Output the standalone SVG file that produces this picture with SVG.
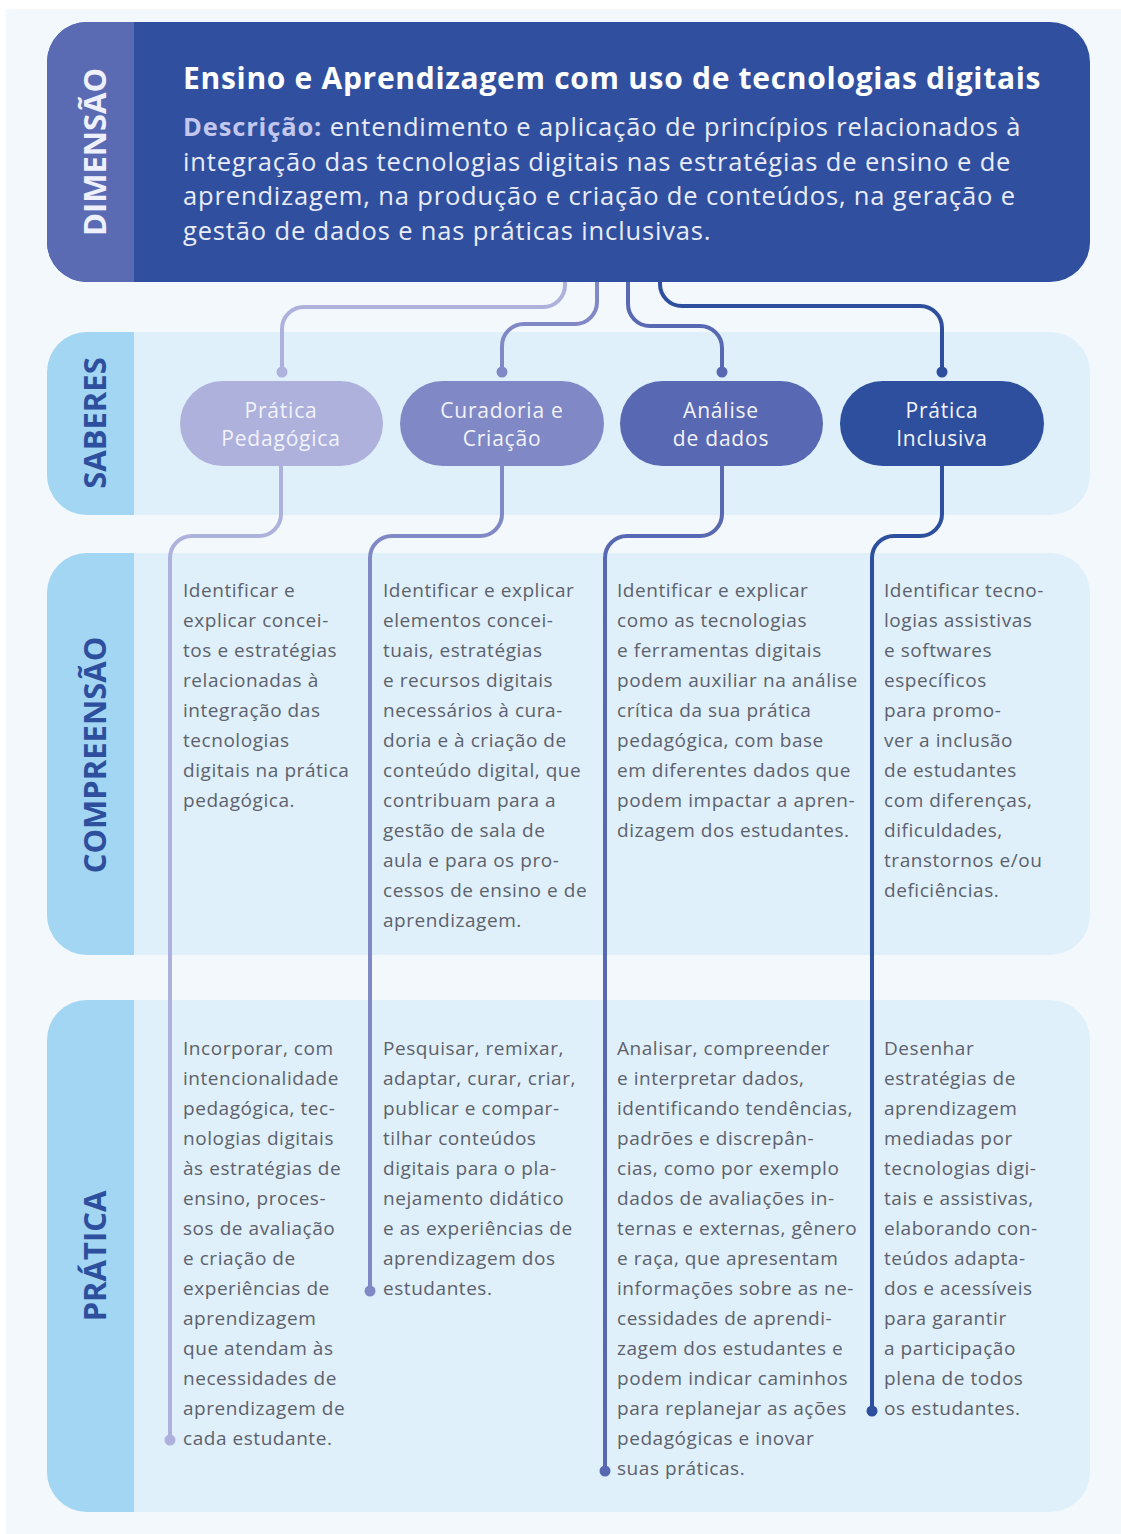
<svg xmlns="http://www.w3.org/2000/svg" width="1121" height="1534" viewBox="0 0 1121 1534">
  <style>
    .band { fill: #dff0fb; }
    .strip { fill: #a3d6f3; }
    .side { font-family: "Open Sans", "Liberation Sans", sans-serif; font-weight: 700; font-size: 31px; fill: #2d4f9e; text-anchor: middle; }
    .side.light { fill: #eef1fb; }
    .title { font-family: "Open Sans", "Liberation Sans", sans-serif; font-weight: 700; font-size: 30px; letter-spacing: 0.7px; fill: #ffffff; }
    .desc { font-family: "Open Sans", "Liberation Sans", sans-serif; font-size: 25.5px; letter-spacing: 0.85px; fill: #e9ecf8; }
    .desc .lead { font-weight: 700; fill: #c3c7ee; }
    .pill text { font-family: "Open Sans", "Liberation Sans", sans-serif; font-size: 21px; letter-spacing: 0.8px; fill: #f2f3fb; text-anchor: middle; }
    .body { font-family: "Open Sans", "Liberation Sans", sans-serif; font-size: 19px; letter-spacing: 0.55px; fill: #5d616c; }
    .wire { fill: none; stroke-width: 4; stroke-linecap: round; }
    .c1 { stroke: #adb1dc; } .d1 { fill: #adb1dc; }
    .c2 { stroke: #8088c6; } .d2 { fill: #8088c6; }
    .c3 { stroke: #5868b2; } .d3 { fill: #5868b2; }
    .c4 { stroke: #2e4f9e; } .d4 { fill: #2e4f9e; }
  </style>

  <!-- page -->
  <rect width="1121" height="1534" fill="#ffffff"/>
  <rect x="6" y="9" width="1115" height="1525" fill="#f3f8fc"/>

  <!-- section bands -->
  <g id="band-saberes">
    <rect class="band" x="47" y="332" width="1043" height="183" rx="40"/>
    <path class="strip" d="M134,332 H87 A40,40 0 0 0 47,372 V475 A40,40 0 0 0 87,515 H134 Z"/>
    <text class="side" transform="translate(106,423) rotate(-90)">SABERES</text>
  </g>
  <g id="band-compreensao">
    <rect class="band" x="47" y="553" width="1043" height="402" rx="40"/>
    <path class="strip" d="M134,553 H87 A40,40 0 0 0 47,593 V915 A40,40 0 0 0 87,955 H134 Z"/>
    <text class="side" transform="translate(106,755) rotate(-90)">COMPREENSÃO</text>
  </g>
  <g id="band-pratica">
    <rect class="band" x="47" y="1000" width="1043" height="512" rx="40"/>
    <path class="strip" d="M134,1000 H87 A40,40 0 0 0 47,1040 V1472 A40,40 0 0 0 87,1512 H134 Z"/>
    <text class="side" transform="translate(106,1256) rotate(-90)">PRÁTICA</text>
  </g>

  <!-- connectors -->
  <g id="connectors">
    <path class="wire c1" d="M565,275 V285 A22,22 0 0 1 543,307 H304 A22,22 0 0 0 282,329 V372"/>
    <path class="wire c2" d="M597,275 V302 A22,22 0 0 1 575,324 H524 A22,22 0 0 0 502,346 V372"/>
    <path class="wire c3" d="M628,275 V304 A22,22 0 0 0 650,326 H700 A22,22 0 0 1 722,348 V372"/>
    <path class="wire c4" d="M660,275 V284 A22,22 0 0 0 682,306 H920 A22,22 0 0 1 942,328 V372"/>
    <circle class="d1" cx="282" cy="372" r="5.5"/>
    <circle class="d2" cx="502" cy="372" r="5.5"/>
    <circle class="d3" cx="722" cy="372" r="5.5"/>
    <circle class="d4" cx="942" cy="372" r="5.5"/>

    <path class="wire c1" d="M281,460 V514 A22,22 0 0 1 259,536 H192 A22,22 0 0 0 170,558 V1440"/>
    <path class="wire c2" d="M502,460 V514 A22,22 0 0 1 480,536 H392 A22,22 0 0 0 370,558 V1291"/>
    <path class="wire c3" d="M722,460 V514 A22,22 0 0 1 700,536 H627 A22,22 0 0 0 605,558 V1471"/>
    <path class="wire c4" d="M942,460 V514 A22,22 0 0 1 920,536 H894 A22,22 0 0 0 872,558 V1411"/>
    <circle class="d1" cx="170" cy="1440" r="5.5"/>
    <circle class="d2" cx="370" cy="1291" r="5.5"/>
    <circle class="d3" cx="605" cy="1471" r="5.5"/>
    <circle class="d4" cx="872" cy="1411" r="5.5"/>
  </g>

  <!-- dimension header -->
  <g id="dimensao">
    <rect x="47" y="22" width="1043" height="260" rx="40" fill="#30509f"/>
    <path d="M134,22 H87 A40,40 0 0 0 47,62 V242 A40,40 0 0 0 87,282 H134 Z" fill="#5a6bb4"/>
    <text class="side light" transform="translate(106,152) rotate(-90)">DIMENSÃO</text>
    <text class="title" x="183" y="89">Ensino e Aprendizagem com uso de tecnologias digitais</text>
    <text class="desc" x="183" y="136"><tspan class="lead">Descrição:</tspan> entendimento e aplicação de princípios relacionados à</text>
    <text class="desc" x="183" y="171">integração das tecnologias digitais nas estratégias de ensino e de</text>
    <text class="desc" x="183" y="205">aprendizagem, na produção e criação de conteúdos, na geração e</text>
    <text class="desc" x="183" y="240">gestão de dados e nas práticas inclusivas.</text>
  </g>

  <!-- saberes -->
  <g id="saber-pratica-pedagogica" class="pill">
    <rect x="180" y="381" width="203" height="85" rx="42.5" fill="#adb1dc"/>
    <text x="281" y="418">Prática</text>
    <text x="281" y="446">Pedagógica</text>
  </g>
  <g id="saber-curadoria" class="pill">
    <rect x="400" y="381" width="204" height="85" rx="42.5" fill="#8088c6"/>
    <text x="502" y="418">Curadoria e</text>
    <text x="502" y="446">Criação</text>
  </g>
  <g id="saber-analise" class="pill">
    <rect x="620" y="381" width="203" height="85" rx="42.5" fill="#5868b2"/>
    <text x="721" y="418">Análise</text>
    <text x="721" y="446">de dados</text>
  </g>
  <g id="saber-inclusiva" class="pill">
    <rect x="840" y="381" width="204" height="85" rx="42.5" fill="#2e4f9e"/>
    <text x="942" y="418">Prática</text>
    <text x="942" y="446">Inclusiva</text>
  </g>

  <!-- compreensão -->
  <g id="compreensao-1">
    <text class="body" x="183" y="597">
      <tspan x="183" dy="0">Identificar e</tspan>
      <tspan x="183" dy="30">explicar concei-</tspan>
      <tspan x="183" dy="30">tos e estratégias</tspan>
      <tspan x="183" dy="30">relacionadas à</tspan>
      <tspan x="183" dy="30">integração das</tspan>
      <tspan x="183" dy="30">tecnologias</tspan>
      <tspan x="183" dy="30">digitais na prática</tspan>
      <tspan x="183" dy="30">pedagógica.</tspan>
    </text>
  </g>
  <g id="compreensao-2">
    <text class="body" x="383" y="597">
      <tspan x="383" dy="0">Identificar e explicar</tspan>
      <tspan x="383" dy="30">elementos concei-</tspan>
      <tspan x="383" dy="30">tuais, estratégias</tspan>
      <tspan x="383" dy="30">e recursos digitais</tspan>
      <tspan x="383" dy="30">necessários à cura-</tspan>
      <tspan x="383" dy="30">doria e à criação de</tspan>
      <tspan x="383" dy="30">conteúdo digital, que</tspan>
      <tspan x="383" dy="30">contribuam para a</tspan>
      <tspan x="383" dy="30">gestão de sala de</tspan>
      <tspan x="383" dy="30">aula e para os pro-</tspan>
      <tspan x="383" dy="30">cessos de ensino e de</tspan>
      <tspan x="383" dy="30">aprendizagem.</tspan>
    </text>
  </g>
  <g id="compreensao-3">
    <text class="body" x="617" y="597">
      <tspan x="617" dy="0">Identificar e explicar</tspan>
      <tspan x="617" dy="30">como as tecnologias</tspan>
      <tspan x="617" dy="30">e ferramentas digitais</tspan>
      <tspan x="617" dy="30">podem auxiliar na análise</tspan>
      <tspan x="617" dy="30">crítica da sua prática</tspan>
      <tspan x="617" dy="30">pedagógica, com base</tspan>
      <tspan x="617" dy="30">em diferentes dados que</tspan>
      <tspan x="617" dy="30">podem impactar a apren-</tspan>
      <tspan x="617" dy="30">dizagem dos estudantes.</tspan>
    </text>
  </g>
  <g id="compreensao-4">
    <text class="body" x="884" y="597">
      <tspan x="884" dy="0">Identificar tecno-</tspan>
      <tspan x="884" dy="30">logias assistivas</tspan>
      <tspan x="884" dy="30">e softwares</tspan>
      <tspan x="884" dy="30">específicos</tspan>
      <tspan x="884" dy="30">para promo-</tspan>
      <tspan x="884" dy="30">ver a inclusão</tspan>
      <tspan x="884" dy="30">de estudantes</tspan>
      <tspan x="884" dy="30">com diferenças,</tspan>
      <tspan x="884" dy="30">dificuldades,</tspan>
      <tspan x="884" dy="30">transtornos e/ou</tspan>
      <tspan x="884" dy="30">deficiências.</tspan>
    </text>
  </g>

  <!-- prática -->
  <g id="pratica-1">
    <text class="body" x="183" y="1055">
      <tspan x="183" dy="0">Incorporar, com</tspan>
      <tspan x="183" dy="30">intencionalidade</tspan>
      <tspan x="183" dy="30">pedagógica, tec-</tspan>
      <tspan x="183" dy="30">nologias digitais</tspan>
      <tspan x="183" dy="30">às estratégias de</tspan>
      <tspan x="183" dy="30">ensino, proces-</tspan>
      <tspan x="183" dy="30">sos de avaliação</tspan>
      <tspan x="183" dy="30">e criação de</tspan>
      <tspan x="183" dy="30">experiências de</tspan>
      <tspan x="183" dy="30">aprendizagem</tspan>
      <tspan x="183" dy="30">que atendam às</tspan>
      <tspan x="183" dy="30">necessidades de</tspan>
      <tspan x="183" dy="30">aprendizagem de</tspan>
      <tspan x="183" dy="30">cada estudante.</tspan>
    </text>
  </g>
  <g id="pratica-2">
    <text class="body" x="383" y="1055">
      <tspan x="383" dy="0">Pesquisar, remixar,</tspan>
      <tspan x="383" dy="30">adaptar, curar, criar,</tspan>
      <tspan x="383" dy="30">publicar e compar-</tspan>
      <tspan x="383" dy="30">tilhar conteúdos</tspan>
      <tspan x="383" dy="30">digitais para o pla-</tspan>
      <tspan x="383" dy="30">nejamento didático</tspan>
      <tspan x="383" dy="30">e as experiências de</tspan>
      <tspan x="383" dy="30">aprendizagem dos</tspan>
      <tspan x="383" dy="30">estudantes.</tspan>
    </text>
  </g>
  <g id="pratica-3">
    <text class="body" x="617" y="1055">
      <tspan x="617" dy="0">Analisar, compreender</tspan>
      <tspan x="617" dy="30">e interpretar dados,</tspan>
      <tspan x="617" dy="30">identificando tendências,</tspan>
      <tspan x="617" dy="30">padrões e discrepân-</tspan>
      <tspan x="617" dy="30">cias, como por exemplo</tspan>
      <tspan x="617" dy="30">dados de avaliações in-</tspan>
      <tspan x="617" dy="30">ternas e externas, gênero</tspan>
      <tspan x="617" dy="30">e raça, que apresentam</tspan>
      <tspan x="617" dy="30">informações sobre as ne-</tspan>
      <tspan x="617" dy="30">cessidades de aprendi-</tspan>
      <tspan x="617" dy="30">zagem dos estudantes e</tspan>
      <tspan x="617" dy="30">podem indicar caminhos</tspan>
      <tspan x="617" dy="30">para replanejar as ações</tspan>
      <tspan x="617" dy="30">pedagógicas e inovar</tspan>
      <tspan x="617" dy="30">suas práticas.</tspan>
    </text>
  </g>
  <g id="pratica-4">
    <text class="body" x="884" y="1055">
      <tspan x="884" dy="0">Desenhar</tspan>
      <tspan x="884" dy="30">estratégias de</tspan>
      <tspan x="884" dy="30">aprendizagem</tspan>
      <tspan x="884" dy="30">mediadas por</tspan>
      <tspan x="884" dy="30">tecnologias digi-</tspan>
      <tspan x="884" dy="30">tais e assistivas,</tspan>
      <tspan x="884" dy="30">elaborando con-</tspan>
      <tspan x="884" dy="30">teúdos adapta-</tspan>
      <tspan x="884" dy="30">dos e acessíveis</tspan>
      <tspan x="884" dy="30">para garantir</tspan>
      <tspan x="884" dy="30">a participação</tspan>
      <tspan x="884" dy="30">plena de todos</tspan>
      <tspan x="884" dy="30">os estudantes.</tspan>
    </text>
  </g>
</svg>
